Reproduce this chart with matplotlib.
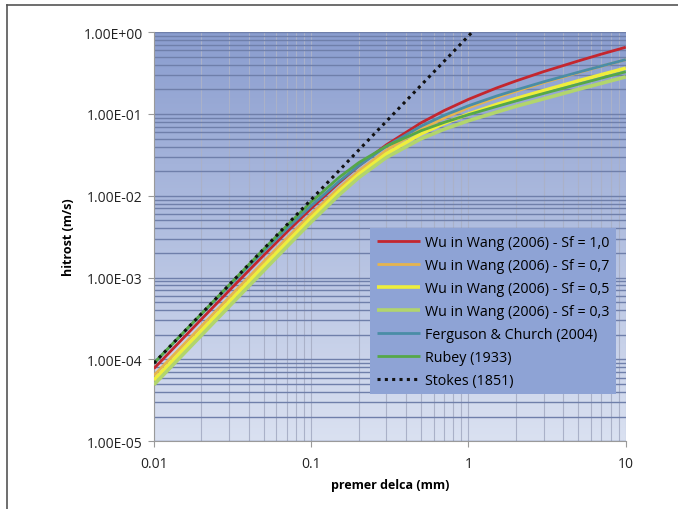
import numpy as np
import matplotlib
matplotlib.use("Agg")
import matplotlib.pyplot as plt
from matplotlib.ticker import LogLocator, FixedFormatter, FixedLocator

# premer delca (mm)
d_mm = [0.01, 0.02, 0.03, 0.05, 0.07, 0.1, 0.15, 0.2, 0.3, 0.5, 0.7, 1, 1.5, 2, 3, 5, 7, 10]
# hitrost (m/s)
wu_10 = [7.72e-05, 0.000308, 0.000688, 0.00188, 0.0036, 0.00702, 0.0144, 0.0231, 0.0418,
         0.078, 0.11, 0.151, 0.207, 0.253, 0.329, 0.445, 0.539, 0.654]
wu_07 = [6.36e-05, 0.000254, 0.00057, 0.00157, 0.00303, 0.00598, 0.0124, 0.02, 0.036,
         0.0651, 0.0892, 0.119, 0.158, 0.189, 0.241, 0.32, 0.383, 0.461]
wu_05 = [5.58e-05, 0.000223, 0.000502, 0.00139, 0.00269, 0.00536, 0.0113, 0.0182, 0.0325,
         0.0572, 0.0767, 0.0998, 0.13, 0.154, 0.193, 0.254, 0.302, 0.363]
wu_03 = [4.9e-05, 0.000196, 0.000441, 0.00122, 0.00238, 0.00478, 0.0102, 0.0166, 0.0293,
         0.0498, 0.065, 0.0827, 0.105, 0.124, 0.153, 0.2, 0.237, 0.284]
ferguson = [8.94e-05, 0.000354, 0.000784, 0.0021, 0.00396, 0.00753, 0.0149, 0.0232, 0.0403,
            0.071, 0.0961, 0.126, 0.165, 0.196, 0.247, 0.324, 0.385, 0.462]
rubey = [8.99e-05, 0.000359, 0.000808, 0.00223, 0.0043, 0.0084, 0.0167, 0.0253, 0.0403,
         0.0624, 0.0788, 0.0981, 0.123, 0.144, 0.178, 0.231, 0.274, 0.328]
stokes_d = [0.01, 0.02, 0.03, 0.05, 0.07, 0.1, 0.15, 0.2, 0.3, 0.5, 0.7, 1, 1.5]
stokes = [8.99e-05, 0.00036, 0.000809, 0.00225, 0.00441, 0.00899, 0.0202, 0.036, 0.0809,
          0.225, 0.441, 0.899, 2.02]

y_ticks = [1e-5, 1e-4, 1e-3, 1e-2, 1e-1, 1e0]
y_labels = ["1.00E-05", "1.00E-04", "1.00E-03", "1.00E-02", "1.00E-01", "1.00E+00"]
x_ticks = [0.01, 0.1, 1, 10]
x_labels = ["0.01", "0.1", "1", "10"]

plt.rcParams["font.family"] = ["Open Sans", "DejaVu Sans"]

fig = plt.figure(figsize=(6.78, 5.1), dpi=100)
ax = fig.add_axes([0.227, 0.133, 0.696, 0.802])

# gradient background of plot area
grad = np.linspace(0, 1, 256).reshape(-1, 1)
top = np.array([0x8A, 0x9D, 0xCF]) / 255
bot = np.array([0xDA, 0xE1, 0xF1]) / 255
img = top[None, None, :] * (1 - grad[:, :, None]) + bot[None, None, :] * grad[:, :, None]
ax.imshow(img, extent=[0, 1, 0, 1], transform=ax.transAxes, aspect="auto", zorder=0)

series = [
    (wu_10, "Wu in Wang (2006) - Sf = 1,0", "#C4262E", 2.0),
    (wu_07, "Wu in Wang (2006) - Sf = 0,7", "#E6B44E", 2.0),
    (wu_05, "Wu in Wang (2006) - Sf = 0,5", "#EEEE3C", 2.6),
    (wu_03, "Wu in Wang (2006) - Sf = 0,3", "#B2D56C", 2.6),
    (ferguson, "Ferguson & Church (2004)", "#4A8DA6", 2.0),
    (rubey, "Rubey (1933)", "#55A848", 2.0),
]
for vals, lab, col, lw in series:
    ax.plot(d_mm, vals, color=col, lw=lw, label=lab, zorder=3, solid_capstyle="butt")
ax.plot(stokes_d, stokes, color="#111111", lw=2.2, ls=(0, (1, 1.4)), label="Stokes (1851)", zorder=4)

ax.set_xscale("log")
ax.set_yscale("log")
ax.set_xlim(0.01, 10)
ax.set_ylim(1e-5, 1)

ax.yaxis.set_major_locator(FixedLocator(y_ticks))
ax.yaxis.set_major_formatter(FixedFormatter(y_labels))
ax.yaxis.set_minor_locator(LogLocator(base=10, subs=np.arange(2, 10)))
ax.xaxis.set_major_locator(FixedLocator(x_ticks))
ax.xaxis.set_major_formatter(FixedFormatter(x_labels))
ax.xaxis.set_minor_locator(LogLocator(base=10, subs=np.arange(2, 10)))
ax.yaxis.set_minor_formatter(plt.NullFormatter())
ax.xaxis.set_minor_formatter(plt.NullFormatter())

ax.grid(True, which="both", axis="y", color="#6F7FAA", lw=1.0, zorder=1)
ax.grid(True, which="both", axis="x", color="#AAB1C8", lw=0.8, zorder=1)
ax.set_axisbelow(True)

for s in ["top", "right"]:
    ax.spines[s].set_visible(False)
for s in ["left", "bottom"]:
    ax.spines[s].set_color("#9A9A9A")
    ax.spines[s].set_linewidth(0.8)
ax.tick_params(which="major", length=4, color="#9A9A9A", labelsize=10, labelcolor="#222222")
ax.tick_params(which="minor", length=0)
ax.tick_params(axis="x", pad=7)
ax.tick_params(axis="y", pad=4)

ax.set_xlabel("premer delca (mm)", fontsize=9, fontweight="bold", labelpad=5)
ax.set_ylabel("hitrost (m/s)", fontsize=9, fontweight="bold", labelpad=6)

leg = ax.legend(loc="lower right", bbox_to_anchor=(0.98, 0.115), fontsize=10.3,
                frameon=True, fancybox=False, handlelength=3.0, handletextpad=0.4,
                labelspacing=0.56, borderpad=0.45, borderaxespad=0)
leg.get_frame().set_facecolor("#8EA3D5")
leg.get_frame().set_edgecolor("none")
leg.get_frame().set_alpha(1)
leg.set_zorder(5)

# outer frame (top and left edges of the original chart box)
fig.add_artist(plt.Line2D([0.0103, 1.0], [0.988, 0.988], transform=fig.transFigure, color="#555555", lw=1.2))
fig.add_artist(plt.Line2D([0.0103, 0.0103], [0.0, 0.988], transform=fig.transFigure, color="#555555", lw=1.2))

fig.savefig("out.png", dpi=100)
